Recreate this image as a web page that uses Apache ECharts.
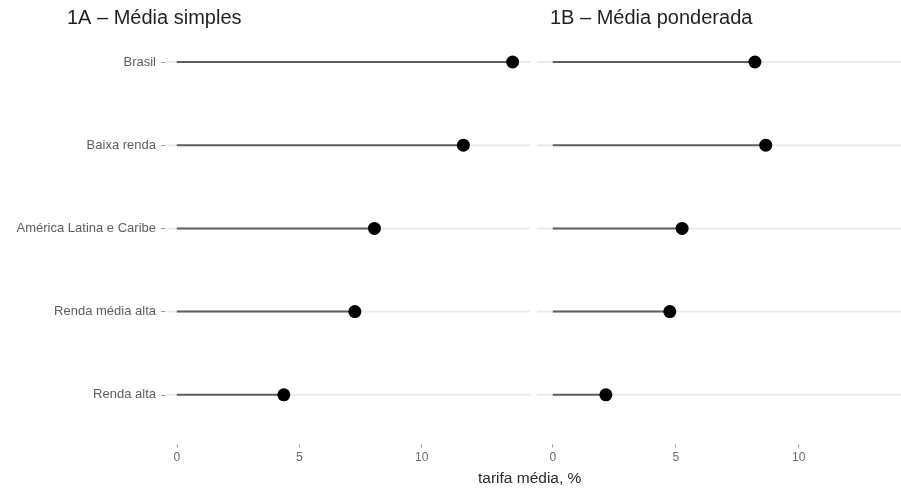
<!DOCTYPE html>
<html>
<head>
<meta charset="utf-8">
<script src="https://cdn.jsdelivr.net/npm/echarts@6/dist/echarts.min.js"></script>
<style>html,body{margin:0;padding:0;background:#fff}#c{width:901px;height:488px}</style>
</head>
<body>
<div id="c"></div>
<script>
const categories = ['Brasil', 'Baixa renda', 'América Latina e Caribe', 'Renda média alta', 'Renda alta'];
const simples = [13.71, 11.70, 8.07, 7.27, 4.37];
const ponderada = [8.22, 8.66, 5.26, 4.76, 2.16];
const xTicks = [0, 5, 10];
const panelTitles = ['1A – Média simples', '1B – Média ponderada'];
const xName = 'tarifa média, %';

const FONT = 'Liberation Sans, Arial, sans-serif';
const chart = echarts.init(document.getElementById('c'), null, {renderer: 'canvas'});

function xAxisCfg(i, min, max) {
  return {
    gridIndex: i, type: 'value', min: min, max: max, offset: 8,
    axisLine: {show: false, onZero: false},
    splitLine: {show: false},
    axisTick: {show: true, length: 3, customValues: xTicks, lineStyle: {color: '#9a9a9a', width: 1}},
    axisLabel: {customValues: xTicks, margin: 7, color: '#6b6b6b', fontSize: 12, fontFamily: FONT}
  };
}
function yAxisCfg(i, showLabels) {
  return {
    gridIndex: i, type: 'category', data: categories, inverse: true,
    axisLine: {show: false, onZero: false},
    splitLine: {show: false},
    axisTick: {show: showLabels, length: 4, alignWithLabel: true, lineStyle: {color: '#9a9a9a', width: 1}},
    axisLabel: {show: showLabels, margin: 9, color: '#5e5e5e', fontSize: 13, fontFamily: FONT}
  };
}
function stemSeries(i, vals) {
  return {
    type: 'bar', xAxisIndex: i, yAxisIndex: i, data: vals, barWidth: 2, z: 3,
    showBackground: true, backgroundStyle: {color: '#ebebeb'},
    itemStyle: {color: '#5f5f5f'}, silent: true, animation: false
  };
}
function dotSeries(i, vals) {
  return {
    type: 'scatter', xAxisIndex: i, yAxisIndex: i, z: 4,
    data: vals.map((v, k) => [v, categories[k]]),
    symbol: 'circle', symbolSize: 13, itemStyle: {color: '#000000', opacity: 1},
    silent: true, animation: false
  };
}

chart.setOption({
  backgroundColor: '#ffffff',
  animation: false,
  title: [
    {text: panelTitles[0], left: 67, top: 8, padding: 0,
     textStyle: {fontSize: 20, fontWeight: 'normal', color: '#231f20', fontFamily: FONT}},
    {text: panelTitles[1], left: 550, top: 8, padding: 0,
     textStyle: {fontSize: 20, fontWeight: 'normal', color: '#231f20', fontFamily: FONT}},
    {text: xName, left: 478, top: 471, padding: 0,
     textStyle: {fontSize: 15.5, fontWeight: 'normal', color: '#2b2b2b', fontFamily: FONT}}
  ],
  grid: [
    {left: 165, width: 365, top: 20.4, height: 416},
    {left: 537, width: 364, top: 20.4, height: 416}
  ],
  xAxis: [xAxisCfg(0, -0.48, 14.42), xAxisCfg(1, -0.64, 14.16)],
  yAxis: [yAxisCfg(0, true), yAxisCfg(1, false)],
  series: [
    stemSeries(0, simples), stemSeries(1, ponderada),
    dotSeries(0, simples), dotSeries(1, ponderada)
  ]
});
</script>
</body>
</html>
